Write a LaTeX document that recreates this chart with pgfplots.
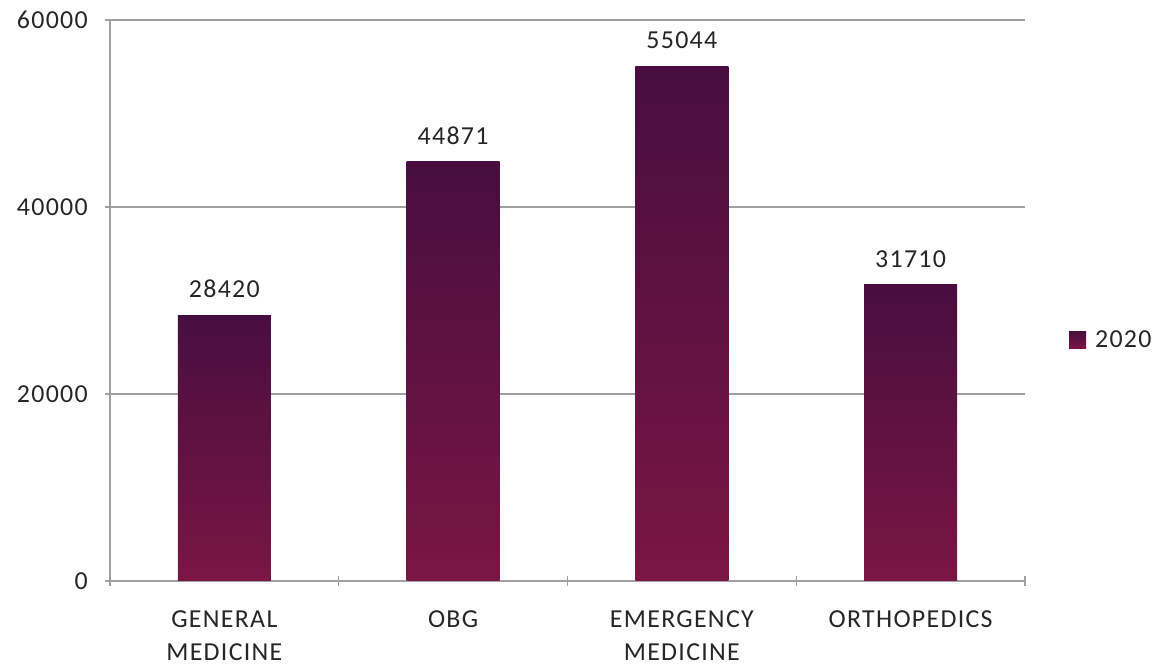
\documentclass[border=0pt]{standalone}
\usepackage{pgfplots}
\pgfplotsset{compat=1.18}
\usepackage{fontspec}
\setmainfont[LetterSpace=5]{Carlito}
\definecolor{bartop}{RGB}{72,14,64}
\definecolor{barbot}{RGB}{122,22,68}
\definecolor{gridc}{RGB}{160,160,160}
\definecolor{txt}{RGB}{38,38,38}
\begin{document}
\begin{tikzpicture}[x=1bp,y=1bp]
\path[use as bounding box] (0,0) rectangle (1159,666);
\begin{axis}[
  at={(110bp,85bp)}, anchor=south west,
  scale only axis, width=915bp, height=561bp,
  xmin=-0.5, xmax=3.5, ymin=0, ymax=60000,
  ytick={0,20000,40000,60000},
  yticklabels={0,20000,40000,60000},
  xtick={0,1,2,3},
  xticklabels={{GENERAL\\MEDICINE},{OBG},{EMERGENCY\\MEDICINE},{ORTHOPEDICS}},
  minor xtick={-0.5,0.5,1.5,2.5,3.5},
  every major x tick/.append style={draw=none},
  major tick length=10bp, minor tick length=10bp,
  tick align=outside,
  axis x line=bottom, axis y line=left,
  axis line style={-, draw=gridc, line width=1.2bp},
  every tick/.style={draw=gridc, line width=1.2bp},
  ymajorgrids, major grid style={draw=gridc, line width=1.2bp},
  ticklabel style={font=\fontsize{26}{34}\selectfont, text=txt},
  yticklabel style={inner sep=0pt, anchor=east, xshift=-17bp},
  xticklabel style={align=center, inner sep=0pt, anchor=north, yshift=-24bp},
  scaled y ticks=false,
  /pgf/number format/assume math mode=true,
  /pgf/number format/1000 sep={},
  no markers,
  nodes near coords,
  nodes near coords style={font=\fontsize{26}{30}\selectfont, text=txt, anchor=south, inner sep=0pt, yshift=17bp},
  legend style={draw=none, fill=none, at={(1.048,0.43)}, anchor=west, font=\fontsize{26}{30}\selectfont, text=txt, inner sep=0pt, column sep=7bp},
  legend cell align=left,
  legend image code/.code={\fill[top color=bartop, bottom color=barbot] (0bp,-8.5bp) rectangle (17bp,8.5bp);},
  clip=false,
  every axis plot/.append style={ybar, bar width=93bp, draw=none, top color=bartop, bottom color=barbot},
]
\addplot coordinates {(0,28420)};
\addlegendentry{2020}
\addplot[forget plot] coordinates {(1,44871)};
\addplot[forget plot] coordinates {(2,55044)};
\addplot[forget plot] coordinates {(3,31710)};
\end{axis}
\end{tikzpicture}
\end{document}
